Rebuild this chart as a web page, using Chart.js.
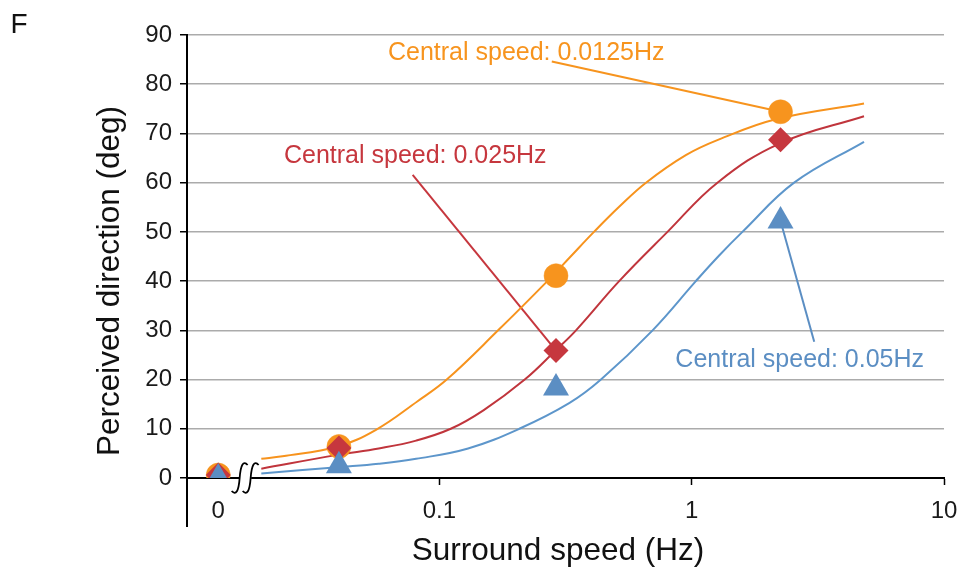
<!DOCTYPE html>
<html>
<head>
<meta charset="utf-8">
<script src="https://cdn.jsdelivr.net/npm/chart.js@4.4.1/dist/chart.umd.min.js"></script>
<style>
html,body{margin:0;padding:0;background:#fff;}
canvas{display:block;}
</style>
</head>
<body>
<canvas id="c" width="959" height="572"></canvas>
<script>
// ---- data ----
const surroundSpeeds = [0, 0.04, 0.29, 2.25];           // Hz ("0" = static surround)
const dirCentral0125 = [0.6, 6.4, 41.1, 74.4];          // deg, central 0.0125 Hz (circles)
const dirCentral025  = [0.6, 6.1, 25.9, 68.7];          // deg, central 0.025 Hz (diamonds)
const dirCentral05   = [0.0, 2.5, 18.3, 52.2];          // deg, central 0.05 Hz (triangles)

const fitX0125 = [0.0197, 0.0239, 0.0395, 0.0561, 0.082, 0.107, 0.171, 0.268, 0.33, 0.41, 0.516, 0.659, 0.948, 1.285, 2.155, 4.82];
const fitY0125 = [3.9, 4.4, 6.4, 9.8, 15.6, 20, 30, 40, 44.9, 50, 55.1, 60, 65.6, 68.8, 72.9, 76.1];
const fitX025  = [0.0197, 0.0395, 0.0575, 0.0809, 0.111, 0.15, 0.218, 0.29, 0.348, 0.516, 0.802, 1.265, 2.24, 4.82];
const fitY025  = [1.9, 4.7, 6.0, 7.6, 10, 13.8, 20, 26.0, 30, 40, 50, 60, 68.0, 73.5];
const fitX05   = [0.0197, 0.0395, 0.0575, 0.0809, 0.13, 0.2075, 0.327, 0.437, 0.700, 1.039, 1.285, 1.589, 2.547, 4.82];
const fitY05   = [0.9, 2.2, 2.9, 3.9, 6.0, 10, 15.2, 20, 30, 40, 45.2, 50, 60, 68.3];

const xTickValues = [0, 0.1, 1, 10];
const xTickLabels = ['0', '0.1', '1', '10'];
const yTicks = [0, 10, 20, 30, 40, 50, 60, 70, 80, 90];

const seriesLabels = ['Central speed: 0.0125Hz', 'Central speed: 0.025Hz', 'Central speed: 0.05Hz'];

// ---- styling / layout ----
const ORANGE = '#F7941E', RED = '#C6373E', BLUE = '#5B8EC3';
const ORANGE_L = '#F7931D', RED_L = '#C0353C', BLUE_L = '#5D96CB';
const FONT = '"Liberation Sans", Arial, Helvetica, sans-serif';
const ZERO_AT = 0.0133;   // log-axis position of the "0" category
const BREAK_AT = 0.0170;  // axis break mark position
const xPos = v => (v === 0 ? ZERO_AT : v);
const pts = (xs, ys) => xs.map((x, i) => ({ x: xPos(x), y: ys[i] }));

// annotation placement (data coordinates)
const annotations = [
  { text: seriesLabels[0], color: ORANGE, at: [0.221, 85.0], from: [0.279, 84.6], to: [surroundSpeeds[3], dirCentral0125[3]] },
  { text: seriesLabels[1], color: RED,    at: [0.0803, 63.9], from: [0.0784, 61.6], to: [surroundSpeeds[2], dirCentral025[2]] },
  { text: seriesLabels[2], color: BLUE,   at: [2.68, 22.5],  from: [3.06, 27.7],  to: [surroundSpeeds[3], dirCentral05[3]] }
];

Chart.defaults.font.family = FONT;

const decor = {
  id: 'decor',
  beforeDatasetsDraw(chart) {
    const { ctx, scales: { x, y } } = chart;
    ctx.save();
    ctx.lineWidth = 2;
    annotations.forEach(a => {
      ctx.strokeStyle = a.color;
      ctx.beginPath();
      ctx.moveTo(x.getPixelForValue(a.from[0]), y.getPixelForValue(a.from[1]));
      ctx.lineTo(x.getPixelForValue(xPos(a.to[0])), y.getPixelForValue(a.to[1]));
      ctx.stroke();
      ctx.fillStyle = a.color;
      ctx.font = '25px ' + FONT;
      ctx.textAlign = 'center';
      ctx.textBaseline = 'alphabetic';
      ctx.fillText(a.text, x.getPixelForValue(a.at[0]), y.getPixelForValue(a.at[1]));
    });
    ctx.restore();
  },
  afterDraw(chart) {
    const { ctx, chartArea: ca, scales: { x } } = chart;
    ctx.save();
    // y axis line continues below x axis
    ctx.strokeStyle = '#000';
    ctx.lineWidth = 2;
    ctx.beginPath();
    ctx.moveTo(ca.left, ca.bottom);
    ctx.lineTo(ca.left, ca.bottom + 49);
    ctx.stroke();
    // axis break mark
    const bx = x.getPixelForValue(BREAK_AT), by = ca.bottom;
    ctx.fillStyle = '#fff';
    ctx.fillRect(bx - 6, by - 2, 12, 4);
    ctx.lineWidth = 1.8;
    [-5.5, 5.5].forEach(dx => {
      const cx = bx + dx;
      ctx.beginPath();
      ctx.moveTo(cx - 8, by + 13);
      ctx.quadraticCurveTo(cx - 1.5, by + 20, cx, by);
      ctx.quadraticCurveTo(cx + 1.5, by - 20, cx + 8, by - 13);
      ctx.stroke();
    });
    // axis titles
    ctx.fillStyle = '#111';
    ctx.font = '31.5px ' + FONT;
    ctx.textAlign = 'center';
    ctx.textBaseline = 'alphabetic';
    ctx.fillText('Surround speed (Hz)', (ca.left + ca.right) / 2 - 7.5, ca.bottom + 82);
    ctx.save();
    ctx.translate(ca.left - 68, (ca.top + ca.bottom) / 2 + 24.5);
    ctx.rotate(-Math.PI / 2);
    ctx.fillText('Perceived direction (deg)', 0, 0);
    ctx.restore();
    // panel letter
    ctx.font = '28px ' + FONT;
    ctx.textAlign = 'left';
    ctx.fillText('F', 10.5, 33);
    ctx.restore();
  }
};

new Chart(document.getElementById('c'), {
  type: 'scatter',
  data: {
    datasets: [
      { data: pts(surroundSpeeds, dirCentral05), showLine: false, pointStyle: 'triangle', pointRadius: 15,
        pointBackgroundColor: BLUE, pointBorderColor: BLUE, pointBorderWidth: 0, order: 0 },
      { data: pts(surroundSpeeds, dirCentral025), showLine: false, pointStyle: 'rectRot', pointRadius: 12.5,
        pointBackgroundColor: RED, pointBorderColor: RED, pointBorderWidth: 0, order: 1 },
      { data: pts(surroundSpeeds, dirCentral0125), showLine: false, pointStyle: 'circle', pointRadius: 12,
        pointBackgroundColor: ORANGE, pointBorderColor: ORANGE, pointBorderWidth: 0.5, order: 2 },
      { data: pts(fitX05, fitY05), showLine: true, pointRadius: 0, borderColor: BLUE_L, borderWidth: 2,
        tension: 0.4, fill: false, order: 3 },
      { data: pts(fitX025, fitY025), showLine: true, pointRadius: 0, borderColor: RED_L, borderWidth: 2,
        tension: 0.4, fill: false, order: 4 },
      { data: pts(fitX0125, fitY0125), showLine: true, pointRadius: 0, borderColor: ORANGE_L, borderWidth: 2,
        tension: 0.4, fill: false, order: 5 }
    ]
  },
  options: {
    responsive: false,
    devicePixelRatio: 1,
    animation: false,
    events: [],
    layout: { padding: { top: 35, right: 1, left: 0, bottom: 0 } },
    plugins: { legend: { display: false }, tooltip: { enabled: false } },
    scales: {
      x: {
        type: 'logarithmic',
        position: 'bottom',
        min: 0.01,
        max: 10,
        afterBuildTicks: s => { s.ticks = xTickValues.map(v => ({ value: xPos(v) })); },
        afterFit: s => { s.height = 94; },
        ticks: {
          autoSkip: false, maxRotation: 0, padding: 0, color: '#1a1a1a',
          font: { size: 24, lineHeight: 2.2 },
          callback: v => { const i = xTickValues.map(xPos).indexOf(v); return i >= 0 ? xTickLabels[i] : ''; }
        },
        grid: {
          drawOnChartArea: false, drawTicks: true, tickLength: 7, tickWidth: 1.5,
          tickColor: c => (c.tick && c.tick.value === ZERO_AT ? 'rgba(0,0,0,0)' : '#000')
        },
        border: { color: '#000', width: 2 }
      },
      y: {
        type: 'linear',
        min: 0,
        max: 90,
        afterBuildTicks: s => { s.ticks = yTicks.map(v => ({ value: v })); },
        afterFit: s => { s.width = 187; },
        ticks: { padding: 8, color: '#1a1a1a', font: { size: 24 } },
        grid: { color: '#ababab', lineWidth: 1.5, tickLength: 7, tickWidth: 1.5, tickColor: '#000' },
        border: { color: '#000', width: 2 }
      }
    }
  },
  plugins: [decor]
});
</script>
</body>
</html>
